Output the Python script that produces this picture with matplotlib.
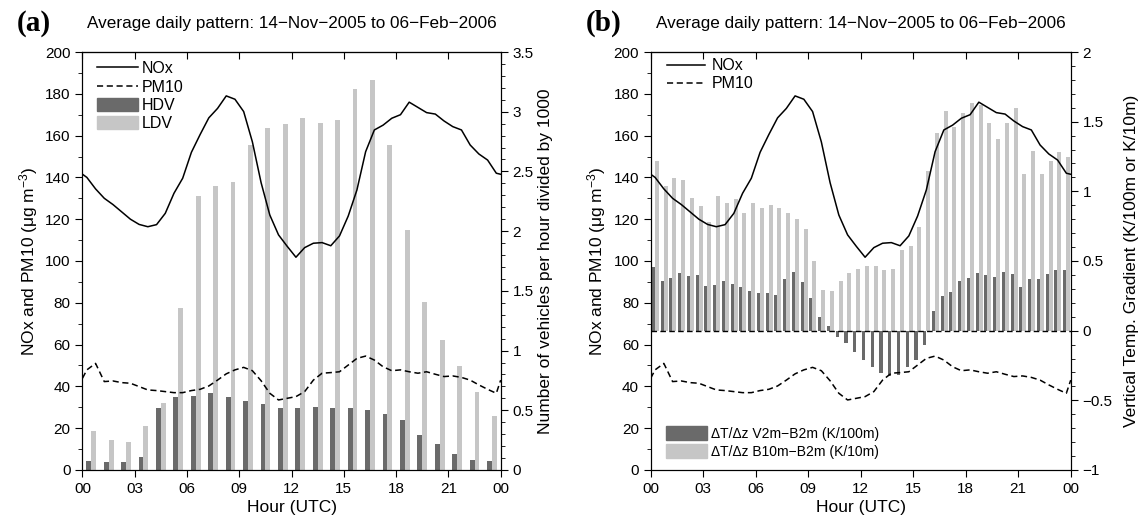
# Average daily pattern of NOx / PM10 with traffic counts (a) and temperature gradients (b)
import numpy as np
import matplotlib
matplotlib.use("Agg")
import matplotlib.pyplot as plt
from matplotlib.ticker import MultipleLocator, FuncFormatter
from matplotlib.patches import Patch
from matplotlib.lines import Line2D

plt.rcParams['font.family'] = ['Liberation Sans', 'DejaVu Sans']
plt.rcParams['mathtext.default'] = 'regular'

# ---- data ----
# line series sampled at 0, 0.25, 0.75, ... 23.75, 24 h
line_hours = np.concatenate([[0], np.arange(0.25, 24, 0.5), [24]])
nox = [141.5, 140, 134.5, 130, 127, 123.5, 120, 117.5, 116.4, 117.4, 122.8, 132.4,
       139.6, 152, 160.5, 168.5, 173, 179, 177.4, 171.5, 157, 137.5, 122, 112.5,
       107, 101.8, 106.4, 108.5, 108.8, 107.3, 112, 121.5, 134, 152.3, 162.7, 165,
       168.3, 170, 176, 173.5, 171, 170.3, 167, 164.3, 162.7, 155.5, 151.2, 148.3,
       142, 141.5]
pm10 = [43.9, 47.9, 51, 42.3, 42.6, 41.8, 41.5, 39.9, 38.3, 38, 37.5, 37,
        37, 38, 38.6, 40.2, 43, 46, 47.9, 49.1, 47.5, 42.7, 36.7, 33.5,
        34.3, 35.1, 37.5, 43, 46.3, 46.6, 47, 50.2, 53.4, 54.5, 52.6, 49.4,
        47.5, 47.9, 47, 46.3, 47, 45.8, 44.7, 45, 44.3, 43, 40.7, 38.6,
        36.7, 43]

# hourly traffic (vehicles per hour / 1000)
veh_hours = np.arange(24) + 0.5
hdv = [0.075, 0.07, 0.07, 0.106, 0.52, 0.614, 0.622, 0.645, 0.614, 0.58, 0.553, 0.52,
       0.52, 0.527, 0.52, 0.52, 0.50, 0.47, 0.42, 0.29, 0.22, 0.13, 0.08, 0.075]
ldv = [0.329, 0.254, 0.237, 0.366, 0.564, 1.359, 2.294, 2.381, 2.411, 2.721, 2.861, 2.90,
       2.947, 2.908, 2.928, 3.19, 3.263, 2.724, 2.01, 1.407, 1.088, 0.874, 0.656, 0.455]

# half-hourly vertical temperature gradients
grad_hours = np.arange(0.25, 24, 0.5)
dtdz_v2m = [0.455, 0.359, 0.378, 0.411, 0.395, 0.402, 0.318, 0.325, 0.354, 0.335, 0.316, 0.282,
            0.273, 0.27, 0.258, 0.371, 0.423, 0.352, 0.234, 0.10, 0.036, -0.048, -0.089, -0.156,
            -0.208, -0.258, -0.306, -0.323, -0.316, -0.258, -0.211, -0.105, 0.139, 0.251, 0.28, 0.356,
            0.378, 0.414, 0.402, 0.388, 0.423, 0.409, 0.316, 0.368, 0.368, 0.404, 0.438, 0.438]
dtdz_b10m = [1.22, 1.04, 1.093, 1.081, 0.95, 0.892, 0.782, 0.964, 0.916, 0.945, 0.847, 0.914,
             0.88, 0.9, 0.88, 0.842, 0.80, 0.73, 0.502, 0.292, 0.282, 0.359, 0.411, 0.443,
             0.467, 0.467, 0.435, 0.44, 0.579, 0.61, 0.742, 1.144, 1.419, 1.577, 1.464, 1.565,
             1.636, 1.62, 1.49, 1.376, 1.488, 1.596, 1.127, 1.292, 1.127, 1.215, 1.285, 1.249]

hour_ticks = np.arange(0, 25, 3)
hour_labels = ['00', '03', '06', '09', '12', '15', '18', '21', '00']
title = 'Average daily pattern: 14\u2212Nov\u22122005 to 06\u2212Feb\u22122006'

DARK = '#6a6a6a'
LIGHT = '#c6c6c6'
fmt = FuncFormatter(lambda v, p: ('%g' % v).replace('-', '\u2212'))

fig = plt.figure(figsize=(11.41, 5.18), dpi=100)


def setup(ax, ax2):
    ax.set_zorder(ax2.get_zorder() + 1)
    ax.patch.set_visible(False)
    ax.set_xlim(0, 24)
    ax.set_ylim(0, 200)
    ax.set_xticks(hour_ticks)
    ax.set_xticklabels(hour_labels)
    ax.yaxis.set_major_locator(MultipleLocator(20))
    ax.yaxis.set_minor_locator(MultipleLocator(10))
    ax.tick_params(which='both', direction='out', labelsize=11, top=False)
    ax.tick_params(which='major', length=5)
    ax.tick_params(which='minor', length=3)
    ax2.yaxis.set_minor_locator(MultipleLocator(0.1))
    ax2.yaxis.set_major_formatter(fmt)
    ax2.tick_params(which='both', direction='out', labelsize=11)
    ax2.tick_params(which='major', length=5)
    ax2.tick_params(which='minor', length=3)
    top = ax.secondary_xaxis('top')
    top.set_xticks(hour_ticks)
    top.tick_params(direction='in', length=5, labeltop=False)
    ax.set_xlabel('Hour (UTC)', fontsize=12.5, labelpad=3)
    ax.set_ylabel('NOx and PM10 (\u03bcg m$^{\u22123}$)', fontsize=12.5, labelpad=4)
    ax.set_title(title, fontsize=12.3, pad=17)


# ---------- panel (a) ----------
axa = fig.add_axes([0.0723, 0.0927, 0.3665, 0.8069])
axa2 = axa.twinx()
axa2.bar(veh_hours - 0.14, hdv, width=0.28, color=DARK, label='HDV')
axa2.bar(veh_hours + 0.14, ldv, width=0.28, color=LIGHT, label='LDV')
axa2.set_ylim(0, 3.5)
axa2.yaxis.set_major_locator(MultipleLocator(0.5))
axa2.set_ylabel('Number of vehicles per hour divided by 1000', fontsize=12.5, labelpad=3)
axa.plot(line_hours, nox, color='black', lw=1.1, label='NOx')
axa.plot(line_hours, pm10, color='black', lw=1.1, ls=(0, (4, 2.4)), label='PM10')
setup(axa, axa2)
h1 = [Line2D([], [], color='black', lw=1.1),
      Line2D([], [], color='black', lw=1.1, ls=(0, (4, 2.4))),
      Patch(color=DARK), Patch(color=LIGHT)]
axa.legend(h1, ['NOx', 'PM10', 'HDV', 'LDV'], loc='upper left', bbox_to_anchor=(0.034, 0.978),
           frameon=False, fontsize=11.5, handlelength=2.6, handleheight=0.9,
           handletextpad=0.25, labelspacing=0.2, borderaxespad=0, borderpad=0)
fig.text(0.015, 0.94, '(a)', fontsize=21, fontweight='bold', family='Liberation Serif')

# ---------- panel (b) ----------
axb = fig.add_axes([0.5703, 0.0927, 0.3681, 0.8069])
axb2 = axb.twinx()
axb2.bar(grad_hours - 0.09, dtdz_v2m, width=0.19, color=DARK)
axb2.bar(grad_hours + 0.1, dtdz_b10m, width=0.22, color=LIGHT)
axb2.axhline(0, color='black', lw=1, ls=(0, (4, 2.4)))
axb2.set_ylim(-1, 2)
axb2.yaxis.set_major_locator(MultipleLocator(0.5))
axb2.set_ylabel('Vertical Temp. Gradient (K/100m or K/10m)', fontsize=12.5, labelpad=8)
axb.plot(line_hours, nox, color='black', lw=1.1)
axb.plot(line_hours, pm10, color='black', lw=1.1, ls=(0, (4, 2.4)))
setup(axb, axb2)
leg1 = axb.legend(h1[:2], ['NOx', 'PM10'], loc='upper left', bbox_to_anchor=(0.038, 0.985),
                  frameon=False, fontsize=11.5, handlelength=2.4, handletextpad=0.4,
                  labelspacing=0.2, borderaxespad=0, borderpad=0)
axb.add_artist(leg1)
axb.legend(h1[2:], ['\u0394T/\u0394z V2m\u2212B2m (K/100m)', '\u0394T/\u0394z B10m\u2212B2m (K/10m)'],
           loc='lower left', bbox_to_anchor=(0.036, 0.027), frameon=False, fontsize=10,
           handlelength=3.0, handleheight=1.15, handletextpad=0.25, labelspacing=0.22,
           borderaxespad=0, borderpad=0)
fig.text(0.513, 0.94, '(b)', fontsize=21, fontweight='bold', family='Liberation Serif')

fig.savefig('out.png', dpi=100)
